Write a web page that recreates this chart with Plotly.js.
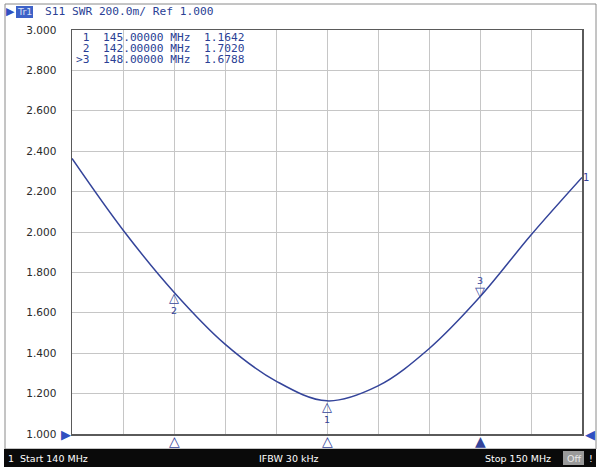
<!DOCTYPE html>
<html>
<head>
<meta charset="utf-8">
<script src="https://cdn.plot.ly/plotly-3.0.1.min.js"></script>
<style>html,body{margin:0;padding:0;background:#fff;}#chart{width:600px;height:467px;}</style>
</head>
<body>
<div id="chart"></div>
<script>
// ---- data ----
const freqMHz = [140, 141, 142, 143, 144, 145, 146, 147, 148, 149, 150];
const swr     = [2.364, 2.010, 1.702, 1.445, 1.262, 1.164, 1.238, 1.422, 1.679, 1.985, 2.270];

const markerNum   = ['1', '2', '3'];
const markerFreq  = [145, 142, 148];
const markerValue = [1.1642, 1.7020, 1.6788];
const activeMarker = '3';

const headerText = 'S11 SWR 200.0m/ Ref 1.000';
const startLabel = '1  Start 140 MHz';
const ifbwLabel  = 'IFBW 30 kHz';
const stopLabel  = 'Stop 150 MHz';

const yTicks = [1.0, 1.2, 1.4, 1.6, 1.8, 2.0, 2.2, 2.4, 2.6, 2.8, 3.0];
const xTicks = [140, 141, 142, 143, 144, 145, 146, 147, 148, 149, 150];

// ---- styling ----
const BLUE = '#34449a';
const TXT_BLUE = '#2b3f95';
const mono = 'DejaVu Sans Mono, monospace';
const sans = 'DejaVu Sans, sans-serif';

const W = 600, H = 467, L = 72, R = 18, T = 30, B = 33;
const pw = W - L - R, ph = H - T - B;
const px = x => (x - L) / pw;          // pixel -> paper x
const py = y => (H - B - y) / ph;      // pixel -> paper y

const trace = {
  x: freqMHz, y: swr, type: 'scatter', mode: 'lines',
  line: {color: BLUE, width: 1.5, shape: 'spline', smoothing: 1.0},
  hoverinfo: 'skip', cliponaxis: false
};

const ann = [];
// header
ann.push({xref: 'paper', yref: 'paper', x: px(10), y: py(12), text: '▶', showarrow: false,
  font: {family: sans, size: 11, color: '#3050c0'}, xanchor: 'center', yanchor: 'middle'});
ann.push({xref: 'paper', yref: 'paper', x: px(24.5), y: py(12), text: 'Tr1', showarrow: false,
  font: {family: sans, size: 9.5, color: '#d8e0f4'}, xanchor: 'center', yanchor: 'middle'});
ann.push({xref: 'paper', yref: 'paper', x: px(43), y: py(12), text: headerText, showarrow: false,
  font: {family: mono, size: 11.2, color: TXT_BLUE}, xanchor: 'left', yanchor: 'middle'});

// marker table
const fmtFreq = f => f.toFixed(5);
const rowY = [37.5, 48.5, 59.5];
markerNum.forEach((n, i) => {
  const prefix = (n === activeMarker ? '>' : ' ') + n;
  const line = prefix + '  ' + fmtFreq(markerFreq[i]) + ' MHz  ' + markerValue[i].toFixed(4);
  ann.push({xref: 'paper', yref: 'paper', x: px(75), y: py(rowY[i]), text: line.replace(/ /g, '&nbsp;'),
    showarrow: false, borderpad: 0, font: {family: mono, size: 11.2, color: TXT_BLUE}, xanchor: 'left', yanchor: 'middle'});
});

// markers on the trace (triangle + number in one label)
const tri = s => '<span style="font-size:13px">' + s + '</span>';
markerNum.forEach((n, i) => {
  if (n === activeMarker) {
    ann.push({x: markerFreq[i], y: markerValue[i], text: n + '<br>' + tri('▽'), showarrow: false,
      xanchor: 'center', yanchor: 'bottom', yshift: -3, borderpad: 0,
      font: {family: sans, size: 9.5, color: BLUE}});
  } else {
    ann.push({x: markerFreq[i], y: markerValue[i], text: tri('△') + '<br>' + n, showarrow: false,
      xanchor: 'center', yanchor: 'top', yshift: 3, borderpad: 0,
      font: {family: sans, size: 9.5, color: BLUE}});
  }
  // triangle under the x axis
  ann.push({x: markerFreq[i], xref: 'x', yref: 'paper', y: py(441.5), text: n === activeMarker ? '▲' : '△',
    showarrow: false, xanchor: 'center', yanchor: 'middle', font: {family: sans, size: 14, color: BLUE}});
});

// trace number at right end
ann.push({x: freqMHz[freqMHz.length - 1], y: swr[swr.length - 1], text: '1', showarrow: false,
  xanchor: 'left', yanchor: 'middle', xshift: -1, font: {family: sans, size: 10, color: BLUE}});

// reference level arrows
ann.push({xref: 'paper', yref: 'y', x: px(66), y: yTicks[0], text: '▶', showarrow: false,
  xanchor: 'center', yanchor: 'middle', font: {family: sans, size: 13, color: '#3050c0'}});
ann.push({xref: 'paper', yref: 'y', x: px(590), y: yTicks[0], text: '◀', showarrow: false,
  xanchor: 'center', yanchor: 'middle', font: {family: sans, size: 13, color: '#3050c0'}});

// bottom bar texts
const barY = py(458);
ann.push({xref: 'paper', yref: 'paper', x: px(6), y: barY, text: startLabel.replace(/ /g, '&nbsp;'), showarrow: false,
  xanchor: 'left', yanchor: 'middle', font: {family: sans, size: 9.5, color: '#ffffff'}});
ann.push({xref: 'paper', yref: 'paper', x: px(289), y: barY, text: ifbwLabel, showarrow: false,
  xanchor: 'center', yanchor: 'middle', font: {family: sans, size: 9.5, color: '#ffffff'}});
ann.push({xref: 'paper', yref: 'paper', x: px(553), y: barY, text: stopLabel, showarrow: false,
  xanchor: 'right', yanchor: 'middle', font: {family: sans, size: 9.5, color: '#ffffff'}});
ann.push({xref: 'paper', yref: 'paper', x: px(573.5), y: barY, text: 'Off', showarrow: false,
  xanchor: 'center', yanchor: 'middle', font: {family: sans, size: 9.5, color: '#e8e8e8'}});
ann.push({xref: 'paper', yref: 'paper', x: px(591), y: barY, text: '!', showarrow: false,
  xanchor: 'center', yanchor: 'middle', font: {family: sans, size: 9.5, color: '#ffffff'}});

const shapes = [
  // outer frame
  {type: 'rect', xref: 'paper', yref: 'paper', x0: px(5), x1: px(596), y0: py(449), y1: py(4),
    line: {color: '#8a8a8a', width: 1}, fillcolor: 'rgba(0,0,0,0)', layer: 'below'},
  // black status bar
  {type: 'rect', xref: 'paper', yref: 'paper', x0: px(4), x1: px(596), y0: py(467), y1: py(449),
    line: {width: 0}, fillcolor: '#0a0a0a'},
  // Off box
  {type: 'rect', xref: 'paper', yref: 'paper', x0: px(563), x1: px(584), y0: py(465), y1: py(451),
    line: {width: 0}, fillcolor: '#9a9a9a'},
  // Tr1 highlight
  {type: 'rect', xref: 'paper', yref: 'paper', x0: px(16), x1: px(33), y0: py(18), y1: py(6),
    line: {width: 0}, fillcolor: '#3d62c8'}
];

const layout = {
  width: W, height: H,
  margin: {l: L, r: R, t: T, b: B, pad: 0},
  paper_bgcolor: '#ffffff', plot_bgcolor: '#ffffff',
  showlegend: false,
  xaxis: {range: [freqMHz[0], freqMHz[freqMHz.length - 1]], tickvals: xTicks, showticklabels: false,
    showgrid: true, gridcolor: '#c6c6c6', gridwidth: 1, zeroline: false,
    showline: true, linecolor: '#5a5a5a', linewidth: 1.5, mirror: true, ticks: '', fixedrange: true},
  yaxis: {range: [yTicks[0], yTicks[yTicks.length - 1]], tickvals: yTicks, tickformat: '.3f',
    showgrid: true, gridcolor: '#c6c6c6', gridwidth: 1, zeroline: false,
    showline: true, linecolor: '#5a5a5a', linewidth: 1.5, mirror: true, ticks: '',
    ticklabelstandoff: 12, tickfont: {family: sans, size: 10.5, color: '#2a2a2a'}, fixedrange: true},
  annotations: ann,
  shapes: shapes
};

Plotly.newPlot('chart', [trace], layout, {displayModeBar: false, staticPlot: true});
</script>
</body>
</html>
